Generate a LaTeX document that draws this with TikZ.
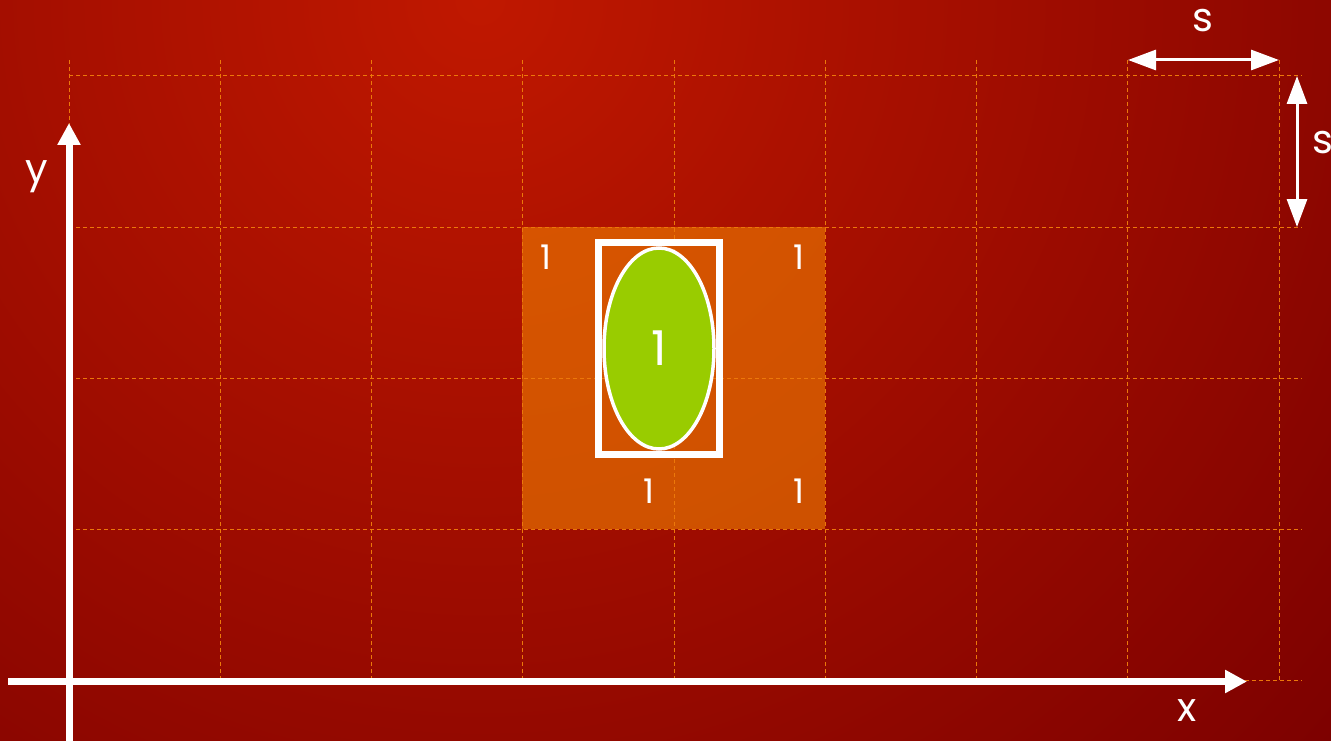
\documentclass[tikz,border=0pt]{standalone}
\usepackage{fontspec}
\setmainfont{Poppins}
\usetikzlibrary{arrows.meta,shapes.geometric}
\definecolor{gridorange}{RGB}{236,120,10}
\definecolor{cellorange}{RGB}{240,128,0}
\definecolor{leafgreen}{RGB}{153,204,0}
\definecolor{bgtop}{RGB}{192,24,0}
\definecolor{bgbottom}{RGB}{122,0,0}
\tikzset{
  gridline/.style={gridorange, line width=1pt, dash pattern=on 4pt off 3pt},
  axisline/.style={white, line width=7pt, -{Triangle[length=22pt,width=22pt]}},
  spanline/.style={white, line width=3pt, {Triangle[length=28pt,width=20pt]}-{Triangle[length=28pt,width=20pt]}},
  axislabel/.style={text=white, font=\fontsize{40}{48}\selectfont, inner sep=0pt},
  celllabel/.style={text=white, font=\fontsize{34}{40}\selectfont, inner sep=0pt},
}
\begin{document}
\begin{tikzpicture}[x=1pt, y=-1pt]
  \useasboundingbox (0,0) rectangle (1331,741);
  % Background
  \begin{scope}
    \clip (0,0) rectangle (1331,741);
    \shade[inner color=bgtop, outer color=bgbottom] (480,0) circle (1180);
  \end{scope}
  % Highlighted cells
  \fill[cellorange, fill opacity=0.6] (522,227) rectangle (825,529);
  % Grid
  \foreach \i in {0,...,8}
    \draw[gridline] ({69+151.25*\i},60) -- ({69+151.25*\i},681);
  \foreach \j in {0,...,4}
    \draw[gridline] (69,{76+151*\j}) -- (1302,{76+151*\j});
  % Axes
  \coordinate (xstart) at (8,681.5);
  \coordinate (xend) at (1247,681.5);
  \coordinate (ystart) at (69,745);
  \coordinate (yend) at (69,123);
  \draw[axisline] (xstart) -- (xend);
  \draw[axisline] (ystart) -- (yend);
  \node[axislabel] (xlabel) at (1187,711) {x};
  \node[axislabel] (ylabel) at (37,177) {y};
  % Cell size
  \coordinate (sleft) at (1128,60);
  \coordinate (sright) at (1279,60);
  \coordinate (stop) at (1297,76);
  \coordinate (sbottom) at (1297,227);
  \draw[spanline] (sleft) -- (sright);
  \draw[spanline] (stop) -- (sbottom);
  \node[axislabel] (swidth) at (1203,21) {s};
  \node[axislabel] (sheight) at (1323,143) {s};
  % Object and its box
  \node[draw=white, line width=7pt, minimum width=121pt, minimum height=212pt, inner sep=0pt] (frame) at (659,348.5) {};
  \node[ellipse, draw=white, line width=3.5pt, fill=leafgreen, minimum width=110pt, minimum height=201pt, inner sep=0pt,
        text=white, font=\fontsize{48}{56}\selectfont] (leaf) at (659,348.5) {1};
  % Cell values
  \node[celllabel] (topleft) at (546,257) {1};
  \node[celllabel] (topright) at (799,257) {1};
  \node[celllabel] (bottomleft) at (649,491) {1};
  \node[celllabel] (bottomright) at (799,491) {1};
\end{tikzpicture}
\end{document}
